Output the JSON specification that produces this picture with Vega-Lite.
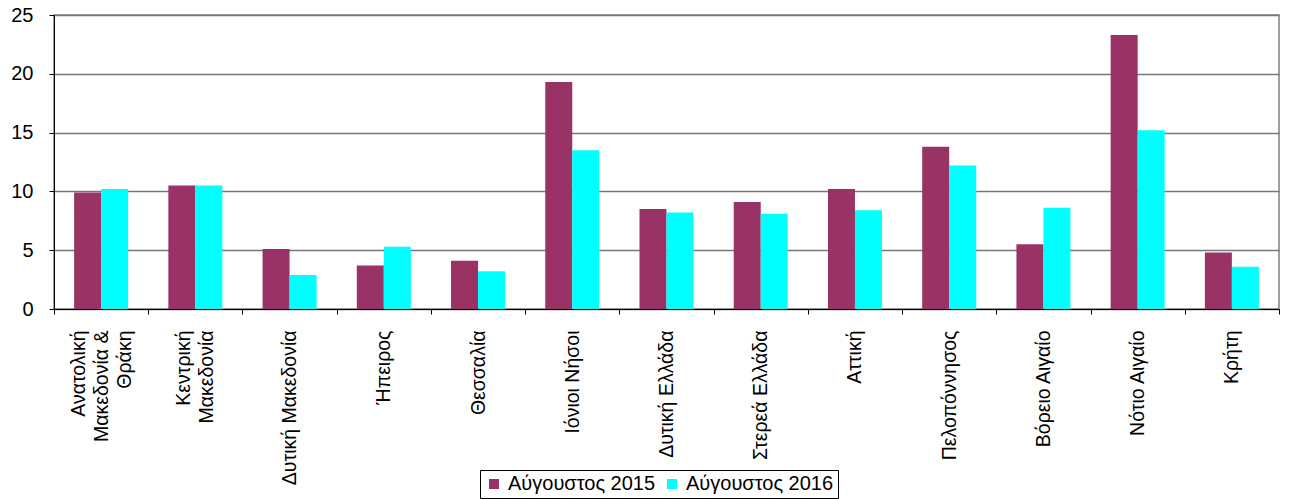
{
  "$schema": "https://vega.github.io/schema/vega-lite/v6.json",
  "autosize": {"type": "none"},
  "width": 1225,
  "height": 294,
  "padding": {"left": 54, "top": 15, "right": 10, "bottom": 190},
  "background": "white",
  "config": {"view": {"stroke": "#808080", "strokeWidth": 1.5}, "font": "Liberation Sans"},
  "data": {
    "values": [
      {"region": "Ανατολική|Μακεδονία &|Θράκη", "period": "Αύγουστος 2015", "value": 9.9},
      {"region": "Ανατολική|Μακεδονία &|Θράκη", "period": "Αύγουστος 2016", "value": 10.2},
      {"region": "Κεντρική|Μακεδονία", "period": "Αύγουστος 2015", "value": 10.5},
      {"region": "Κεντρική|Μακεδονία", "period": "Αύγουστος 2016", "value": 10.5},
      {"region": "Δυτική Μακεδονία", "period": "Αύγουστος 2015", "value": 5.1},
      {"region": "Δυτική Μακεδονία", "period": "Αύγουστος 2016", "value": 2.9},
      {"region": "Ήπειρος", "period": "Αύγουστος 2015", "value": 3.7},
      {"region": "Ήπειρος", "period": "Αύγουστος 2016", "value": 5.3},
      {"region": "Θεσσαλία", "period": "Αύγουστος 2015", "value": 4.1},
      {"region": "Θεσσαλία", "period": "Αύγουστος 2016", "value": 3.2},
      {"region": "Ιόνιοι Νήσοι", "period": "Αύγουστος 2015", "value": 19.3},
      {"region": "Ιόνιοι Νήσοι", "period": "Αύγουστος 2016", "value": 13.5},
      {"region": "Δυτική Ελλάδα", "period": "Αύγουστος 2015", "value": 8.5},
      {"region": "Δυτική Ελλάδα", "period": "Αύγουστος 2016", "value": 8.2},
      {"region": "Στερεά Ελλάδα", "period": "Αύγουστος 2015", "value": 9.1},
      {"region": "Στερεά Ελλάδα", "period": "Αύγουστος 2016", "value": 8.1},
      {"region": "Αττική", "period": "Αύγουστος 2015", "value": 10.2},
      {"region": "Αττική", "period": "Αύγουστος 2016", "value": 8.4},
      {"region": "Πελοπόννησος", "period": "Αύγουστος 2015", "value": 13.8},
      {"region": "Πελοπόννησος", "period": "Αύγουστος 2016", "value": 12.2},
      {"region": "Βόρειο Αιγαίο", "period": "Αύγουστος 2015", "value": 5.5},
      {"region": "Βόρειο Αιγαίο", "period": "Αύγουστος 2016", "value": 8.6},
      {"region": "Νότιο Αιγαίο", "period": "Αύγουστος 2015", "value": 23.3},
      {"region": "Νότιο Αιγαίο", "period": "Αύγουστος 2016", "value": 15.2},
      {"region": "Κρήτη", "period": "Αύγουστος 2015", "value": 4.8},
      {"region": "Κρήτη", "period": "Αύγουστος 2016", "value": 3.6}
    ]
  },
  "mark": {"type": "bar"},
  "encoding": {
    "x": {
      "field": "region",
      "type": "nominal",
      "sort": null,
      "scale": {"paddingInner": 0, "paddingOuter": 0},
      "axis": {
        "title": null,
        "labelAngle": -90,
        "labelAlign": "right",
        "labelBaseline": "middle",
        "labelExpr": "split(datum.label, '|')",
        "labelOffset": {
          "condition": [
            {"test": "datum.value == 'Ανατολική|Μακεδονία &|Θράκη'", "value": -23},
            {"test": "datum.value == 'Κεντρική|Μακεδονία'", "value": -11.5}
          ],
          "value": 0
        },
        "tickBand": "extent",
        "domainColor": "black",
        "tickColor": "black",
        "tickSize": 5,
        "labelFontSize": 19.5,
        "labelPadding": 16,
        "labelLineHeight": 23,
        "labelColor": "black",
        "grid": false
      }
    },
    "xOffset": {"field": "period", "scale": {"paddingOuter": 0.745, "paddingInner": 0}},
    "y": {
      "field": "value",
      "type": "quantitative",
      "scale": {"domain": [0, 25]},
      "axis": {
        "title": null,
        "values": [0, 5, 10, 15, 20, 25],
        "gridColor": "#777777",
        "gridWidth": 1.5,
        "domainColor": "black",
        "tickColor": "black",
        "tickSize": 5,
        "labelPadding": 16,
        "labelFontSize": 20,
        "labelColor": "black"
      }
    },
    "color": {
      "field": "period",
      "type": "nominal",
      "scale": {"range": ["#993366", "#00FFFF"]},
      "legend": {
        "title": null,
        "orient": "none",
        "legendX": 426,
        "legendY": 455,
        "direction": "horizontal",
        "strokeColor": "black",
        "fillColor": "white",
        "padding": 4,
        "symbolType": "square",
        "symbolSize": 100,
        "symbolStrokeWidth": 0,
        "symbolOpacity": 1,
        "labelFontSize": 20,
        "labelColor": "black",
        "columnPadding": 6
      }
    }
  }
}
